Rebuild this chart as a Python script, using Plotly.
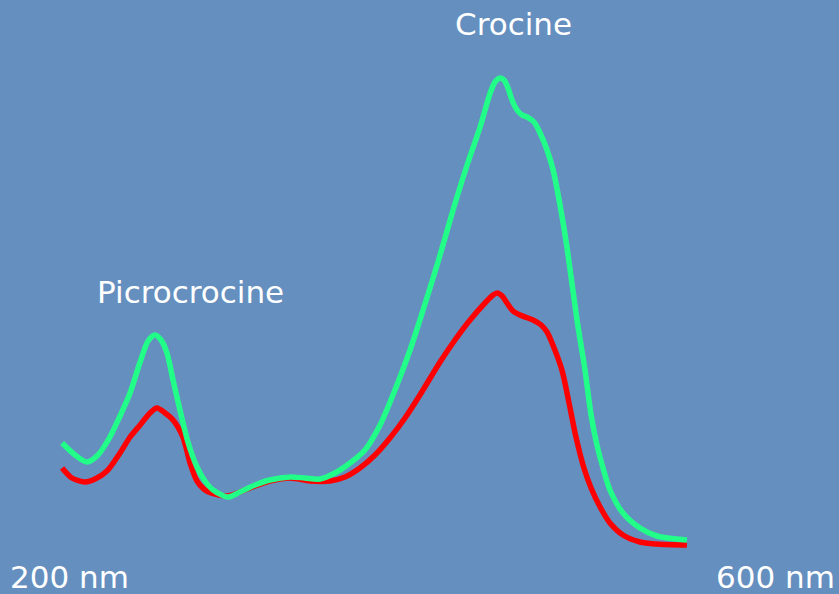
import plotly.graph_objects as go

# Wavelength (nm) and absorbance (arbitrary units)
green_nm = [229.6, 235.8, 241.5, 246.7, 252.4, 257.2, 262.0, 266.8, 270.6, 273.9, 276.8, 279.6,
            282.5, 285.8, 289.6, 293.9, 297.7, 301.6, 308.7, 314.4, 321.6, 328.7, 338.3, 345.4,
            352.6, 359.7, 366.9, 374.0, 381.2, 388.3, 395.5, 400.2, 408.4, 416.0, 422.7, 428.9,
            433.7, 436.0, 438.4, 440.3, 442.2, 444.1, 446.5, 448.9, 451.3, 454.6, 457.5, 460.8,
            463.7, 467.0, 470.3, 475.1, 478.9, 481.8, 484.6, 487.5, 490.8, 497.0, 505.1, 513.2,
            527.5]
green_abs = [1.51, 1.39, 1.32, 1.39, 1.57, 1.78, 2.01, 2.32, 2.53, 2.59, 2.54, 2.41,
             2.14, 1.84, 1.52, 1.27, 1.13, 1.04, 0.97, 1.02, 1.09, 1.14, 1.17, 1.16,
             1.15, 1.21, 1.31, 1.44, 1.69, 2.04, 2.44, 2.74, 3.29, 3.84, 4.29, 4.67,
             5.01, 5.12, 5.16, 5.14, 5.06, 4.94, 4.84, 4.79, 4.77, 4.72, 4.61, 4.44,
             4.24, 3.89, 3.47, 2.74, 2.24, 1.79, 1.49, 1.26, 1.04, 0.81, 0.66, 0.58,
             0.54]

red_nm = [229.6, 234.3, 240.5, 245.3, 251.0, 257.2, 262.0, 266.8, 271.5, 274.8, 278.7, 282.5,
          287.2, 290.6, 293.9, 297.2, 300.6, 304.4, 308.7, 314.4, 321.6, 328.7, 338.3, 347.8,
          357.3, 364.5, 371.6, 378.8, 385.9, 393.1, 400.2, 409.8, 416.9, 424.1, 431.2, 435.1,
          437.0, 439.4, 441.7, 444.6, 447.9, 454.1, 458.0, 460.8, 463.2, 467.9, 471.3,
          474.6, 478.4, 481.8, 486.1, 490.8, 497.0, 505.1, 513.2, 527.5]
red_abs = [1.26, 1.16, 1.12, 1.15, 1.23, 1.41, 1.57, 1.69, 1.81, 1.86, 1.81, 1.74,
           1.57, 1.31, 1.13, 1.05, 1.01, 0.99, 0.98, 1.02, 1.08, 1.13, 1.16, 1.13,
           1.13, 1.17, 1.26, 1.39, 1.56, 1.76, 1.99, 2.32, 2.54, 2.74, 2.91, 2.99,
           3.01, 2.98, 2.91, 2.83, 2.79, 2.74, 2.69, 2.62, 2.51, 2.24, 1.91,
           1.57, 1.26, 1.06, 0.87, 0.71, 0.59, 0.52, 0.50, 0.49]

axis_labels = ["200 nm", "600 nm"]
axis_ends = [200, 600]
peak_labels = ["Picrocrocine", "Crocine"]

BG = "#658FBF"
FONT = "DejaVu Sans"

fig = go.Figure()
fig.add_trace(go.Scatter(x=red_nm, y=red_abs, mode="lines",
                         line=dict(color="#FF0000", width=5.5, shape="spline", smoothing=0.8),
                         hoverinfo="skip"))
fig.add_trace(go.Scatter(x=green_nm, y=green_abs, mode="lines",
                         line=dict(color="#22FF88", width=5.5, shape="spline", smoothing=0.8),
                         hoverinfo="skip"))

# axis end labels
fig.add_annotation(x=axis_ends[0], y=0.17, text=axis_labels[0], showarrow=False,
                   xanchor="left", yanchor="middle", xshift=8,
                   font=dict(family=FONT, size=31, color="white"))
fig.add_annotation(x=axis_ends[1], y=0.17, text=axis_labels[1], showarrow=False,
                   xanchor="right", yanchor="middle", xshift=-2,
                   font=dict(family=FONT, size=31, color="white"))
# peak labels
fig.add_annotation(x=290.6, y=3.02, text=peak_labels[0], showarrow=False,
                   xanchor="center", yanchor="middle",
                   font=dict(family=FONT, size=31, color="white"))
fig.add_annotation(x=444.6, y=5.70, text=peak_labels[1], showarrow=False,
                   xanchor="center", yanchor="middle",
                   font=dict(family=FONT, size=31, color="white"))

fig.update_layout(
    width=839, height=594,
    margin=dict(l=0, r=0, t=0, b=0),
    paper_bgcolor=BG, plot_bgcolor=BG,
    showlegend=False,
    xaxis=dict(range=[200, 600], visible=False, fixedrange=True),
    yaxis=dict(range=[0, 5.94], visible=False, fixedrange=True),
)

fig.write_html("out.html", config={"displayModeBar": False})

# remove the default page margin so the figure fills the window
with open("out.html", "r", encoding="utf-8") as f:
    html = f.read()
html = html.replace("<head>", "<head><style>html,body{margin:0;padding:0;overflow:hidden;background:%s;}</style>" % BG, 1)
with open("out.html", "w", encoding="utf-8") as f:
    f.write(html)
